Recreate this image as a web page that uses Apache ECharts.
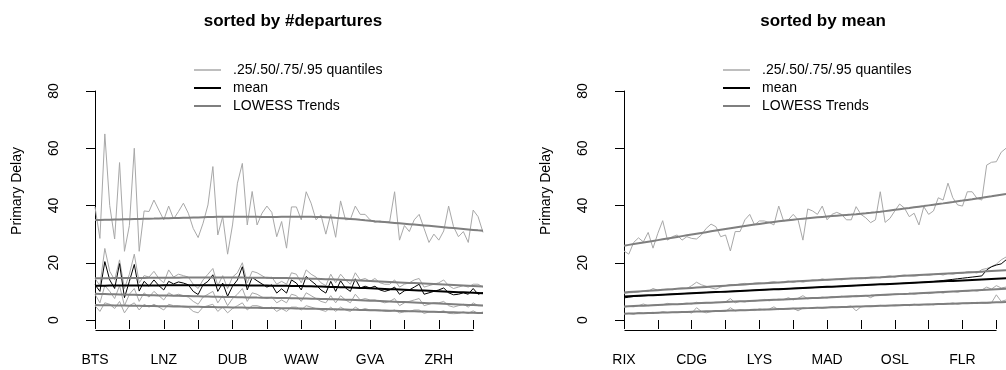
<!DOCTYPE html>
<html>
<head>
<meta charset="utf-8">
<script src="https://cdn.jsdelivr.net/npm/echarts@6/dist/echarts.min.js"></script>
<style>
  html, body { margin: 0; padding: 0; background: #ffffff; }
  #chart { width: 1006px; height: 370px; }
</style>
</head>
<body>
<div id="chart"></div>
<script>
// Airport delay distribution per departure airport (80 airports per panel).
// Tick labels: one airport code every 14 airports, a tick every 7.
const depTickLabels = ['BTS', 'LNZ', 'DUB', 'WAW', 'GVA', 'ZRH'];
const meanTickLabels = ['RIX', 'CDG', 'LYS', 'MAD', 'OSL', 'FLR'];
const LABEL_STEP = 14;
const TICK_STEP = 7;
const LAST_TICK = 77;

// Panel 1: airports sorted by number of departures
const depQ95 = [39.5, 28.5, 65, 40, 28.3, 55, 24, 33, 60, 24, 38.1, 37.9, 41.9, 38.4, 35, 39.8, 35.3, 37.9, 40.8, 37.3,
  32, 28.8, 33.8, 40.2, 53.6, 29.7, 36.1, 23, 33.2, 47.8, 54.7, 33.2, 44.9, 33.2, 37.3, 39.8, 37.6, 29.1, 34.4, 25.1,
  39.5, 39.5, 35, 44.8, 40.8, 35, 36.7, 30, 36.9, 28.9, 41.6, 35, 35.2, 39.8, 36.9, 36.9, 35, 34.1, 34.6, 34.1,
  34.4, 44.8, 27.9, 33, 30.9, 35, 36.9, 32, 27.1, 30, 27.9, 31.1, 39.8, 32.6, 29.1, 30.9, 27.1, 38.4, 36.1, 30.6];
const depQ75 = [14.5, 12, 25, 17, 14, 21, 11, 16, 23, 13, 15.5, 15, 17, 14.5, 13, 17.5, 15, 16, 15.5, 15,
  12.5, 11, 14, 16, 18, 12, 15.5, 11, 15, 16.5, 20, 13, 17, 16.5, 15.5, 14.5, 15, 12.5, 13.5, 12.5,
  16.5, 16, 13, 17.5, 16, 15, 13, 12, 16, 13, 16, 14, 12.5, 16.5, 14, 14.5, 13.5, 14.5, 13, 12.5,
  12.5, 14, 11.5, 12.5, 13, 14, 14.5, 11.5, 12, 12.5, 13, 14, 12, 11, 11.5, 12, 11.5, 12.5, 12.5, 11.5];
const depQ50 = [9, 6, 12, 10, 7.5, 12, 5, 9, 11, 6.5, 9.5, 8, 10, 8.5, 7, 9.5, 8.5, 9, 8.5, 8,
  6.5, 5.5, 8, 9, 10, 6, 8.5, 5, 7.5, 9, 11, 6.5, 9.5, 9, 8, 7.5, 8, 6, 7, 6,
  9, 8.5, 6.5, 9.5, 8.5, 7.5, 6.5, 6, 8.5, 6, 8.5, 7, 6, 9, 7, 7.5, 7, 7, 6.5, 6,
  6.5, 7.5, 5, 6, 6.5, 7, 7.5, 5, 5.5, 6, 6, 6.5, 5, 4.5, 5, 5.5, 4.5, 6, 5, 5];
const depQ25 = [5, 3, 6, 5.5, 4, 6.5, 2.5, 5, 6, 3.5, 5.5, 4.5, 5.5, 4.5, 3.5, 5.5, 5, 5, 4.5, 4.5,
  3, 2.5, 4.5, 5, 5.5, 3, 4.5, 2.5, 4, 5, 6, 3.5, 5, 5, 4.5, 4, 4.5, 3, 4, 3,
  4.5, 4.5, 3.5, 5, 4.5, 4, 3.5, 3, 4.5, 3, 4.5, 3.5, 3, 4.5, 3.5, 4, 3.5, 3.5, 3.5, 3,
  3, 3.5, 2.5, 2.8, 3, 3.5, 3.5, 2.3, 2.8, 2.8, 2.8, 3.2, 2.3, 2.2, 2.3, 2.8, 2.3, 3.2, 2.3, 2.8];
const depMean = [12.3, 10, 20.4, 14, 11, 19.7, 7.8, 13.5, 19.4, 10.1, 13.5, 11.8, 14, 12, 10.5, 13.5, 12.6, 13.3, 12.9, 12.3,
  10, 8.9, 12.3, 13.5, 15.8, 10, 12.9, 8.3, 11.8, 14, 18.6, 10.5, 14.9, 13.7, 12.6, 11.5, 12.3, 9.4, 10.9, 9.4,
  14, 12.9, 10.5, 15.2, 13.7, 12.3, 10.5, 9.4, 13.5, 10, 13.7, 11.2, 10, 14.4, 11.2, 11.8, 11.2, 11.8, 10.5, 10,
  10.5, 11.5, 9, 10.2, 10.5, 11.5, 12.5, 9, 9.5, 10, 10.5, 11.2, 9.5, 8.8, 9, 9.5, 9, 11, 9, 9.6];

// Panel 2: airports sorted by mean delay
const avgQ95 = [24.1, 23, 27.1, 28.7, 27.3, 30.6, 25.1, 30.3, 34.7, 27.9, 29.1, 29.7, 27.9, 29.1, 28.5, 28.3, 29.7, 32, 33.5, 32.6,
  29.1, 29.7, 24.1, 30.9, 30.9, 35, 36.9, 33.2, 34.6, 34.6, 34.1, 33.2, 39.8, 34.6, 35, 36.9, 35, 27.9, 38.8, 38.1,
  36.9, 39.8, 35, 36.9, 37.6, 36.9, 35, 35, 39.6, 36.9, 35.7, 34, 35, 44.8, 34.1, 35.5, 38.1, 40.5, 39.1, 36.1,
  37.3, 33.2, 39.6, 36.9, 38.1, 42.7, 41.9, 47.8, 42.7, 40.2, 39.8, 44.8, 44.8, 42.5, 41.9, 54.1, 55.1, 55.3, 58.6, 60];
const avgQ75 = [9.3, 9.5, 9.6, 9.8, 10.2, 10, 11, 10.4, 10.6, 10.8, 10.6, 11, 11.2, 11, 12, 13.2, 12.3, 11.8, 11.2, 10.8,
  11.5, 12, 12.4, 12.2, 12.6, 12.8, 12.5, 12.9, 13, 12.7, 13.2, 13.4, 13, 13.4, 13.6, 13.1, 13.6, 13.2, 13.6, 14,
  13.8, 14.4, 13.9, 14.1, 14.3, 14, 14.4, 14.6, 14.4, 14.8, 14.4, 15, 14.9, 14.7, 15.2, 15.4, 15, 15.5, 15.7, 15.4,
  15.3, 15.5, 15.8, 15.6, 15.9, 16.1, 15.7, 16.3, 16, 16.4, 16.3, 16.9, 16.8, 16.4, 17.6, 18, 18.6, 19.5, 21, 22];
const avgQ50 = [4.5, 4.8, 4.6, 5, 5.6, 5, 5.2, 5.4, 5.3, 5.8, 5.5, 5.4, 5.7, 5.9, 5.6, 6.2, 5.8, 5.9, 6, 6.2,
  6.1, 6.3, 7.5, 6, 6.5, 6.3, 6.8, 6.6, 6.9, 7.2, 6.7, 7, 7.3, 7.1, 7.8, 7, 7.6, 8.5, 7.4, 7.8,
  7.6, 8, 7.7, 8.2, 7.9, 8.3, 8, 8.1, 8.6, 8.3, 8.5, 7.8, 8.7, 8.9, 8.6, 8.8, 9, 9.2, 8.9, 9.4,
  9, 9.3, 9.6, 9.2, 9.5, 9.8, 9.4, 9.9, 10, 9.7, 10.2, 10, 10.4, 10.1, 10.5, 11.5, 10.8, 12, 11.2, 11.5];
const avgQ25 = [2.2, 2.3, 2, 2.6, 2.4, 2.5, 2.7, 2.4, 2.9, 2.6, 2.7, 2.8, 2.6, 3, 2.4, 4.3, 3, 2.5, 2.9, 3.3,
  3.1, 3, 4.3, 3.2, 3.5, 3.4, 3.6, 3.3, 3.9, 3.5, 3.8, 4.6, 3.6, 4, 3.8, 4.1, 3.2, 4.2, 4, 4.3,
  4.4, 4.1, 4.3, 4.6, 4.5, 4.4, 4.7, 4.9, 3.2, 4.6, 4.8, 5, 4.7, 5.1, 4.9, 5, 5.3, 5.1, 5.4, 5,
  5.5, 5.2, 5.4, 5.6, 5.3, 5.7, 5.5, 5.6, 6, 5.5, 5.8, 6, 5.7, 6.2, 5.8, 5.8, 6, 8.8, 6.5, 7];
const avgMean = [7.7, 8, 8.2, 8.35, 8.45, 8.55, 8.65, 8.75, 8.85, 8.95, 9.05, 9.1, 9.2, 9.3, 9.35, 9.45, 9.5, 9.6, 9.7, 9.75,
  9.85, 9.9, 10, 10.1, 10.15, 10.25, 10.3, 10.4, 10.5, 10.55, 10.65, 10.7, 10.8, 10.9, 10.95, 11.05, 11.1, 11.15, 11.25, 11.3,
  11.4, 11.5, 11.55, 11.65, 11.7, 11.8, 11.9, 11.95, 12.05, 12.1, 12.2, 12.3, 12.35, 12.45, 12.5, 12.6, 12.7, 12.75, 12.85, 12.9,
  13, 13.1, 13.2, 13.3, 13.45, 13.6, 13.8, 14, 14.2, 14.4, 14.6, 14.8, 15, 15.2, 15.4, 17.5, 18.6, 19.2, 19.6, 21];

// R-style LOWESS smoother (f = 2/3, 3 robustness iterations)
function lowessFit(y, f = 2 / 3, iter = 3) {
  const n = y.length;
  const x = y.map((_, i) => i + 1);
  const ns = Math.max(2, Math.min(n, Math.floor(f * n + 1e-7)));
  const delta = 0.01 * (x[n - 1] - x[0]);
  const ys = new Array(n).fill(0), rw = new Array(n).fill(1), res = new Array(n).fill(0), w = new Array(n).fill(0);
  const range = x[n - 1] - x[0];

  function lowest(xs, nleft, nright, userw) {
    const h = Math.max(xs - x[nleft], x[nright] - xs);
    const h9 = 0.999 * h, h1 = 0.001 * h;
    let a = 0, j = nleft;
    while (j < n) {
      w[j] = 0;
      const r = Math.abs(x[j] - xs);
      if (r <= h9) {
        if (r <= h1) w[j] = 1;
        else { const q = r / h; w[j] = Math.pow(1 - q * q * q, 3); }
        if (userw) w[j] *= rw[j];
        a += w[j];
      } else if (x[j] > xs) break;
      j++;
    }
    const nrt = j - 1;
    if (a <= 0) return null;
    for (j = nleft; j <= nrt; j++) w[j] /= a;
    if (h > 0) {
      a = 0;
      for (j = nleft; j <= nrt; j++) a += w[j] * x[j];
      let b = xs - a, c = 0;
      for (j = nleft; j <= nrt; j++) c += w[j] * (x[j] - a) * (x[j] - a);
      if (Math.sqrt(c) > 0.001 * range) {
        b /= c;
        for (j = nleft; j <= nrt; j++) w[j] *= (b * (x[j] - a) + 1);
      }
    }
    let s = 0;
    for (j = nleft; j <= nrt; j++) s += w[j] * y[j];
    return s;
  }

  for (let it = 1; it <= iter + 1; it++) {
    let nleft = 0, nright = ns - 1, last = -1, i = 0;
    for (;;) {
      if (nright < n - 1) {
        const d1 = x[i] - x[nleft], d2 = x[nright + 1] - x[i];
        if (d1 > d2) { nleft++; nright++; continue; }
      }
      const r = lowest(x[i], nleft, nright, it > 1);
      ys[i] = r === null ? y[i] : r;
      if (last < i - 1) {
        const denom = x[i] - x[last];
        for (let j = last + 1; j < i; j++) {
          const alpha = (x[j] - x[last]) / denom;
          ys[j] = alpha * ys[i] + (1 - alpha) * ys[last];
        }
      }
      last = i;
      const cut = x[last] + delta;
      for (i = last + 1; i < n; i++) {
        if (x[i] > cut) break;
        if (x[i] === x[last]) { ys[i] = ys[last]; last = i; }
      }
      i = Math.max(last + 1, i - 1);
      if (last >= n - 1) break;
    }
    for (let k = 0; k < n; k++) res[k] = y[k] - ys[k];
    if (it > iter) break;
    const sorted = res.map(Math.abs).sort((a, b) => a - b);
    const m1 = Math.floor(n / 2);
    const cmad = n % 2 === 0 ? 3 * (sorted[m1] + sorted[n - m1 - 1]) : 6 * sorted[m1];
    const sc = sorted.reduce((s, v) => s + v, 0) / n;
    if (cmad < 1e-7 * sc) break;
    const c9 = 0.999 * cmad, c1 = 0.001 * cmad;
    for (let k = 0; k < n; k++) {
      const r = Math.abs(res[k]);
      rw[k] = r <= c1 ? 1 : (r <= c9 ? Math.pow(1 - (r / cmad) * (r / cmad), 2) : 0);
    }
  }
  return ys;
}

const NAME_Q = '.25/.50/.75/.95 quantiles';
const NAME_M = 'mean';
const NAME_T = 'LOWESS Trends';
const COL_Q = '#a8a8a8';
const COL_T = '#7f7f7f';
const FONT = 'Liberation Sans, Arial, Helvetica, sans-serif';

const N = depMean.length;
const toPairs = arr => arr.map((v, i) => [i, v]);
const range = (from, to, step) => { const out = []; for (let v = from; v <= to; v += step) out.push(v); return out; };

function lineSeries(name, values, gridIdx, color, width, z) {
  return {
    type: 'line', name, data: toPairs(values),
    xAxisIndex: gridIdx, yAxisIndex: gridIdx,
    symbol: 'none', showSymbol: false, clip: false, silent: true,
    color, lineStyle: { color, width }, z,
    emphasis: { disabled: true }, animation: false
  };
}

function panelSeries(gridIdx, quantiles, mean) {
  const out = [];
  quantiles.forEach(q => out.push(lineSeries(NAME_Q, q, gridIdx, COL_Q, 1, 2)));
  out.push(lineSeries(NAME_M, mean, gridIdx, '#000000', 1, 3));
  quantiles.forEach(q => out.push(lineSeries(NAME_T, lowessFit(q), gridIdx, COL_T, 2, 4)));
  out.push(lineSeries(NAME_T, lowessFit(mean), gridIdx, '#000000', 2, 5));
  return out;
}

// Plot area: x spans the airport index 0..79, y spans 0..80 minutes
const gridLefts = [95, 624];
const PLOT_TOP = 91, PLOT_H = 229, PLOT_W = 388;
const X_AXIS_OFFSET = 10;

function xAxisFor(gridIdx, labels) {
  return {
    type: 'value', gridIndex: gridIdx, min: 0, max: N - 1,
    offset: X_AXIS_OFFSET,
    axisLine: { show: false },
    axisTick: { show: true, length: 9, lineStyle: { color: '#000' },
      customValues: range(0, LAST_TICK, TICK_STEP) },
    splitLine: { show: false },
    axisLabel: {
      margin: 23, fontSize: 14, color: '#000', fontFamily: FONT,
      customValues: range(0, LAST_TICK, LABEL_STEP),
      formatter: v => labels[Math.round(v / LABEL_STEP)]
    }
  };
}

function yAxisFor(gridIdx) {
  return {
    type: 'value', gridIndex: gridIdx, min: 0, max: 80, interval: 20,
    offset: 16,
    name: 'Primary Delay', nameLocation: 'middle', nameRotate: 90, nameGap: 55,
    nameTextStyle: { fontSize: 14, color: '#000', fontFamily: FONT, padding: [0, 0, 0, 29] },
    axisLine: { show: true, lineStyle: { color: '#000', width: 1 } },
    axisTick: { show: true, length: 9, lineStyle: { color: '#000' } },
    splitLine: { show: false },
    axisLabel: { rotate: 90, margin: 18, fontSize: 14, color: '#000', fontFamily: FONT }
  };
}

function legendFor(left) {
  return {
    orient: 'vertical', left, top: 63, padding: 0,
    itemWidth: 27, itemHeight: 2, itemGap: 4,
    selectedMode: false, icon: 'rect',
    itemStyle: { borderWidth: 0 },
    textStyle: { fontSize: 14, color: '#000', fontFamily: FONT, lineHeight: 14, padding: [0, 0, 0, 7] },
    data: [
      { name: NAME_Q, itemStyle: { color: '#bebebe', borderWidth: 0 } },
      { name: NAME_M, itemStyle: { color: '#000000', borderWidth: 0 } },
      { name: NAME_T, itemStyle: { color: COL_T, borderWidth: 0 } }
    ]
  };
}

const chart = echarts.init(document.getElementById('chart'), null, { renderer: 'canvas' });
chart.setOption({
  animation: false,
  backgroundColor: '#ffffff',
  title: [
    { text: 'sorted by #departures', left: 288, top: 8, textAlign: 'center',
      textStyle: { fontSize: 17, fontWeight: 'bold', color: '#000', fontFamily: FONT } },
    { text: 'sorted by mean', left: 818, top: 8, textAlign: 'center',
      textStyle: { fontSize: 17, fontWeight: 'bold', color: '#000', fontFamily: FONT } }
  ],
  legend: [legendFor(194), legendFor(723)],
  grid: gridLefts.map(l => ({ left: l, top: PLOT_TOP, width: PLOT_W, height: PLOT_H, containLabel: false })),
  xAxis: [xAxisFor(0, depTickLabels), xAxisFor(1, meanTickLabels)],
  yAxis: [yAxisFor(0), yAxisFor(1)],
  series: [
    ...panelSeries(0, [depQ95, depQ75, depQ50, depQ25], depMean),
    ...panelSeries(1, [avgQ95, avgQ75, avgQ50, avgQ25], avgMean)
  ]
});

// x axis line runs from the first to the last tick only
const axisY = PLOT_TOP + PLOT_H + X_AXIS_OFFSET + 0.5;
chart.setOption({
  graphic: [0, 1].map(k => {
    const x1 = chart.convertToPixel({ xAxisIndex: k }, 0);
    const x2 = chart.convertToPixel({ xAxisIndex: k }, LAST_TICK);
    return {
      type: 'line', silent: true,
      shape: { x1: Math.round(x1) + 0.5, y1: axisY, x2: Math.round(x2) + 0.5, y2: axisY },
      style: { stroke: '#000', lineWidth: 1 }
    };
  })
});
</script>
</body>
</html>
